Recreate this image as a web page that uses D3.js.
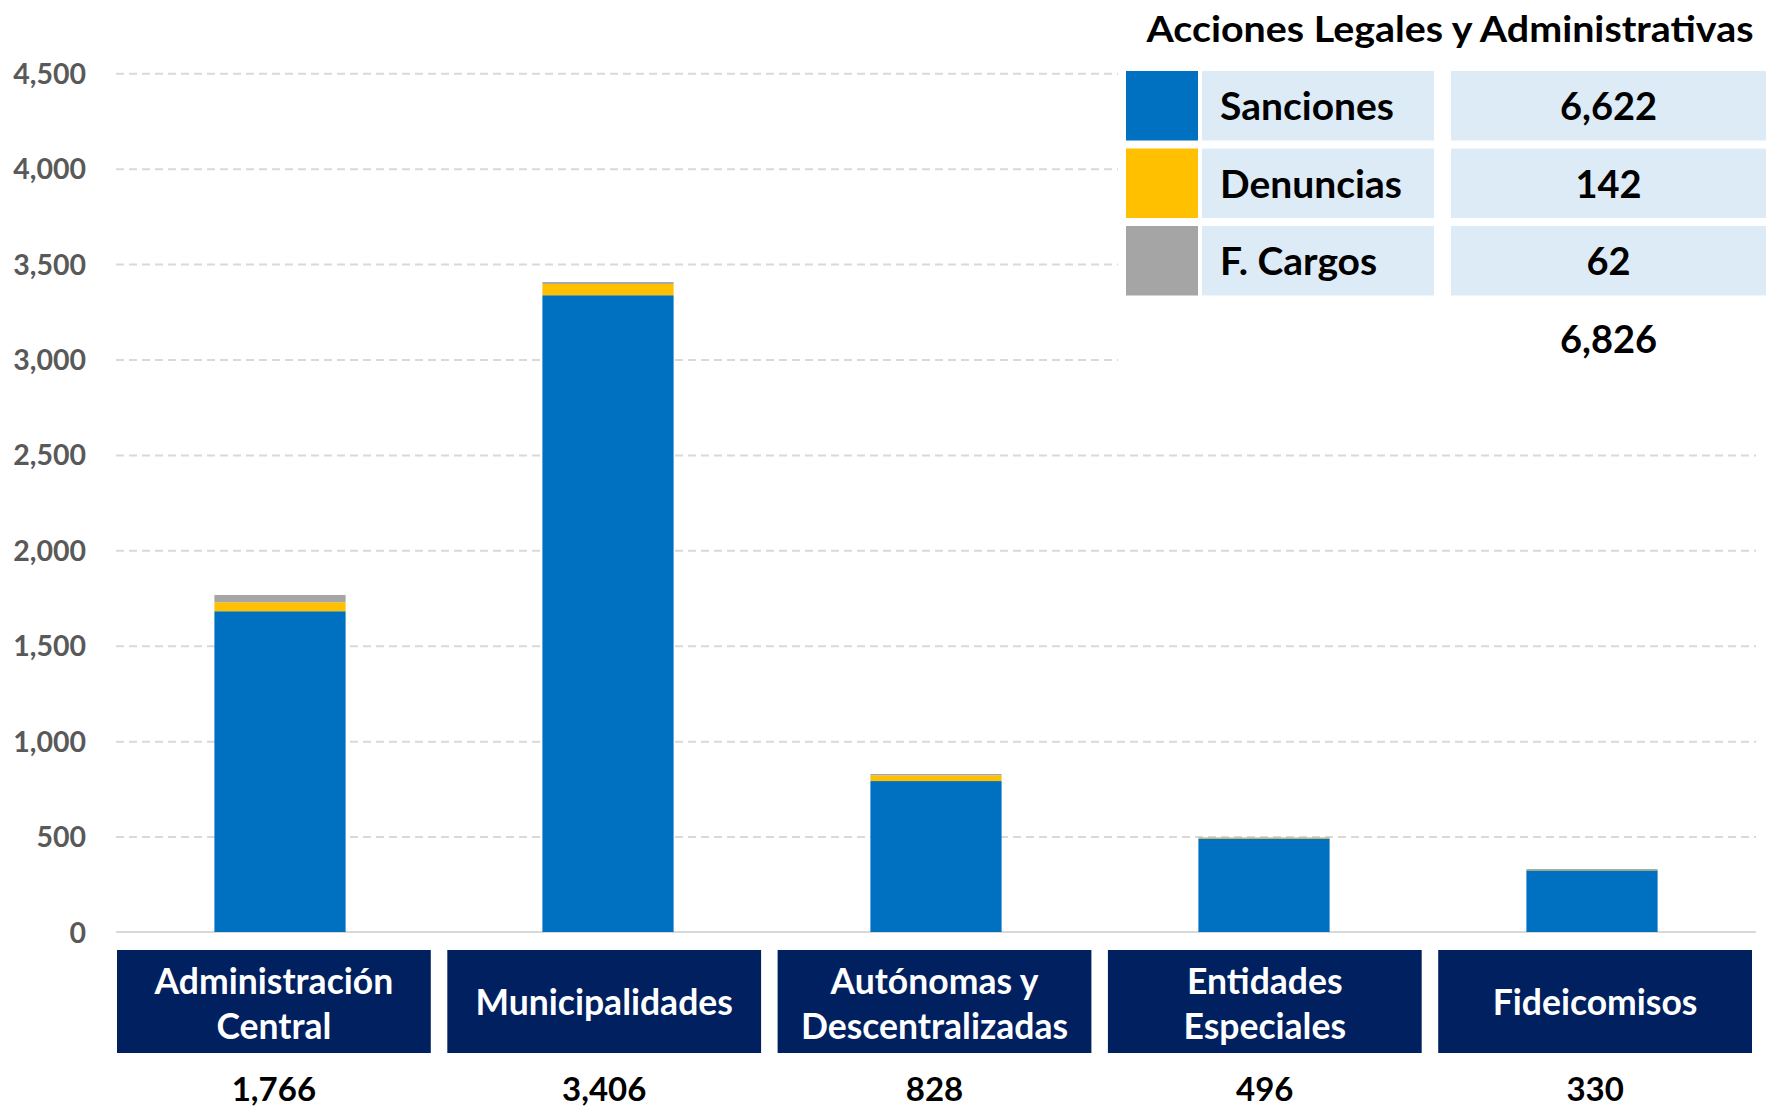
<!DOCTYPE html>
<html>
<head>
<meta charset="utf-8">
<script src="https://cdn.jsdelivr.net/npm/d3@7"></script>
<style>
  html, body { margin: 0; padding: 0; background: #ffffff; }
  svg { display: block; }
  text { font-family: Lato, "Noto Sans", sans-serif; font-weight: 700; }
</style>
</head>
<body>
<svg id="chart" width="1766" height="1108"></svg>
<script>
// ---------------- DATA ----------------
const categories = ["Administración Central", "Municipalidades", "Autónomas y Descentralizadas", "Entidades Especiales", "Fideicomisos"];
const categoryLines = [["Administración", "Central"], ["Municipalidades"], ["Autónomas y", "Descentralizadas"], ["Entidades", "Especiales"], ["Fideicomisos"]];
const seriesNames = ["Sanciones", "Denuncias", "F. Cargos"];
const sanciones = [1681, 3337, 791, 490, 323];
const denuncias = [47, 59, 30, 4, 2];
const fCargos = [38, 10, 7, 2, 5];
const yTicks = [0, 500, 1000, 1500, 2000, 2500, 3000, 3500, 4000, 4500];
const legendTitle = "Acciones Legales y Administrativas";

// ---------------- STYLE ----------------
const seriesColors = ["#0070C0", "#FFC000", "#A5A5A5"];
const navy = "#002060";
const cellBg = "#DDEBF7";
const gridColor = "#D9D9D9";
const tickColor = "#595959";
const fmt = d3.format(",");

const svg = d3.select("#chart");
const plotLeft = 116, plotRight = 1756, plotTop = 73.3, plotBottom = 932;

const table = categories.map((c, i) => ({
  category: c,
  "Sanciones": sanciones[i],
  "Denuncias": denuncias[i],
  "F. Cargos": fCargos[i]
}));

const x = d3.scaleBand().domain(categories).range([plotLeft, plotRight]).padding(0);
const xBox = d3.scaleBand().domain(categories).range([117, 1752]).paddingInner(0.05).paddingOuter(0);
const y = d3.scaleLinear().domain([0, 4500]).range([plotBottom, plotTop]);
const color = d3.scaleOrdinal().domain(seriesNames).range(seriesColors);

// ---------------- GRID / Y AXIS ----------------
const yAxis = d3.axisLeft(y)
  .tickValues(yTicks)
  .tickSize(-(plotRight - plotLeft))
  .tickPadding(30)
  .tickFormat(fmt);

const gy = svg.append("g").attr("transform", `translate(${plotLeft},0)`).call(yAxis);
gy.select(".domain").remove();
gy.selectAll(".tick line")
  .attr("stroke", gridColor)
  .attr("stroke-width", 2)
  .attr("stroke-dasharray", "8,5")
  .attr("display", d => d === 0 ? "none" : null);
gy.selectAll(".tick text")
  .attr("fill", tickColor)
  .attr("font-size", 28.5)
  .attr("font-family", "Lato, 'Noto Sans', sans-serif")
  .attr("font-weight", 700)
  .attr("dy", 10);

// baseline
svg.append("line")
  .attr("x1", plotLeft).attr("x2", plotRight)
  .attr("y1", y(0)).attr("y2", y(0))
  .attr("stroke", gridColor).attr("stroke-width", 2);

// ---------------- BARS ----------------
const stack = d3.stack().keys(seriesNames);
const stacked = stack(table);
const barW = x.step() * 0.4;

svg.append("g").selectAll("g")
  .data(stacked)
  .join("g")
  .attr("fill", d => color(d.key))
  .selectAll("rect")
  .data(d => d)
  .join("rect")
  .attr("x", d => x(d.data.category) + x.bandwidth() / 2 - barW / 2)
  .attr("width", barW)
  .attr("y", d => y(d[1]))
  .attr("height", d => Math.max(0, y(d[0]) - y(d[1])));

// ---------------- CATEGORY BOXES ----------------
const boxTop = 950, boxH = 103;
const cg = svg.append("g").selectAll("g")
  .data(categories)
  .join("g");
cg.append("rect")
  .attr("x", d => xBox(d))
  .attr("y", boxTop)
  .attr("width", xBox.bandwidth())
  .attr("height", boxH)
  .attr("fill", navy);
cg.each(function (d, i) {
  const lines = categoryLines[i];
  const g = d3.select(this);
  const cx = xBox(d) + xBox.bandwidth() / 2;
  const baselines = lines.length === 1 ? [boxTop + 65] : [boxTop + 44, boxTop + 89];
  lines.forEach((ln, j) => {
    g.append("text")
      .attr("x", cx)
      .attr("y", baselines[j])
      .attr("text-anchor", "middle")
      .attr("fill", "#ffffff")
      .attr("font-size", 35.5)
      .text(ln);
  });
  const total = sanciones[i] + denuncias[i] + fCargos[i];
  g.append("text")
    .attr("x", cx)
    .attr("y", 1101)
    .attr("text-anchor", "middle")
    .attr("fill", "#000000")
    .attr("font-size", 33)
    .text(fmt(total));
});

// ---------------- LEGEND TABLE ----------------
svg.append("rect")
  .attr("x", 1118).attr("y", 0)
  .attr("width", 1766 - 1118).attr("height", 380)
  .attr("fill", "#ffffff");

svg.append("text")
  .attr("x", 1450)
  .attr("y", 42)
  .attr("text-anchor", "middle")
  .attr("font-size", 37)
  .attr("textLength", 607)
  .attr("lengthAdjust", "spacingAndGlyphs")
  .attr("fill", "#000000")
  .text(legendTitle);

const seriesTotals = [d3.sum(sanciones), d3.sum(denuncias), d3.sum(fCargos)];
const rowTops = [71, 148.5, 226];
const rowH = 69.5;
const lg = svg.append("g").selectAll("g")
  .data(seriesNames)
  .join("g");
lg.append("rect")
  .attr("x", 1126).attr("width", 72)
  .attr("y", (d, i) => rowTops[i]).attr("height", rowH)
  .attr("fill", d => color(d));
lg.append("rect")
  .attr("x", 1202).attr("width", 232)
  .attr("y", (d, i) => rowTops[i]).attr("height", rowH)
  .attr("fill", cellBg);
lg.append("rect")
  .attr("x", 1451).attr("width", 1766 - 1451)
  .attr("y", (d, i) => rowTops[i]).attr("height", rowH)
  .attr("fill", cellBg);
lg.append("text")
  .attr("x", 1220)
  .attr("y", (d, i) => rowTops[i] + 49)
  .attr("font-size", 39)
  .attr("fill", "#000000")
  .text(d => d);
lg.append("text")
  .attr("x", 1608.5)
  .attr("y", (d, i) => rowTops[i] + 49)
  .attr("text-anchor", "middle")
  .attr("font-size", 38)
  .attr("fill", "#000000")
  .text((d, i) => fmt(seriesTotals[i]));

svg.append("text")
  .attr("x", 1608.5)
  .attr("y", 353)
  .attr("text-anchor", "middle")
  .attr("font-size", 38)
  .attr("fill", "#000000")
  .text(fmt(d3.sum(seriesTotals)));
</script>
</body>
</html>
